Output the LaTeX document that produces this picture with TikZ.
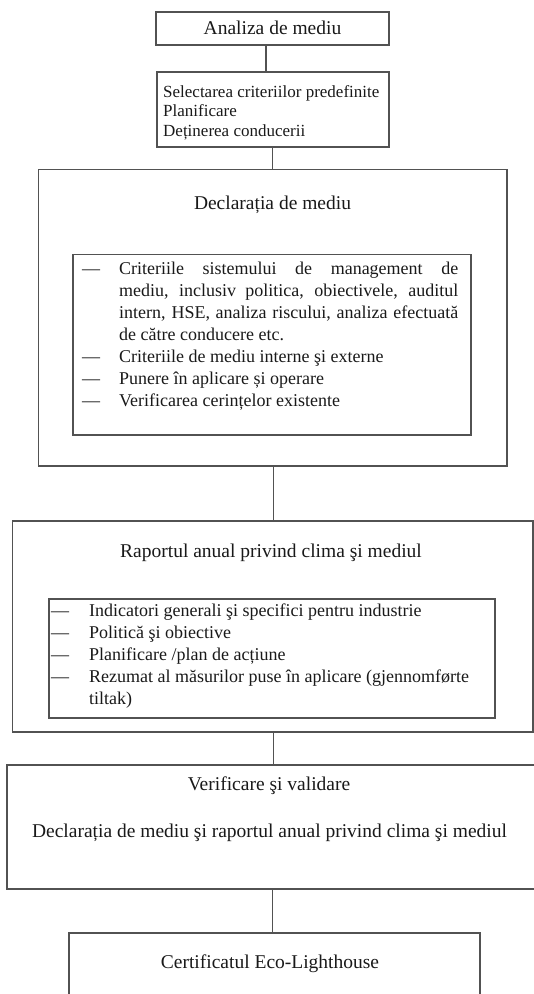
\documentclass[tikz,border=0pt]{standalone}
\usepackage{fontspec}
\setmainfont{Liberation Serif}
\begin{document}
\begin{tikzpicture}[x=1pt,y=-1pt,
  frame/.style={draw=black!68,line width=1.4pt,inner sep=0pt,outer sep=0pt},
  ttl/.style={font=\fontsize{19.5}{23}\selectfont,anchor=base,inner sep=0pt,text=black!90},
  itm/.style={font=\fontsize{18}{22}\selectfont,anchor=base west,inner sep=0pt,text=black!90},
  smalltxt/.style={font=\fontsize{17}{20}\selectfont,anchor=base west,inner sep=0pt,text=black!90},
  link/.style={draw=black!68,line width=1.4pt}]
\useasboundingbox (0,0) rectangle (534,994);
\clip (0,0) rectangle (534,994);

% boxes
\node[frame,minimum width=233pt,minimum height=33pt] (b1) at (272.5,28.5) {};
\node[frame,minimum width=232pt,minimum height=75pt] (b2) at (273,109.5) {};
\node[frame,minimum width=468.5pt,minimum height=296.5pt] (b3) at (272.75,317.75) {};
\node[frame,minimum width=398pt,minimum height=180.5pt] (b3i) at (272,344.75) {};
\node[frame,minimum width=520.5pt,minimum height=211pt] (b4) at (272.75,626.5) {};
\node[frame,minimum width=446pt,minimum height=119pt] (b4i) at (272,658.5) {};
\node[frame,minimum width=533pt,minimum height=124pt] (b5) at (273.5,827) {};
\node[frame,minimum width=411pt,minimum height=77pt] (b6) at (274.5,971.5) {};

% connectors
\coordinate (k1) at (266,0);
\coordinate (k2) at (272.7,0);
\coordinate (k3) at (273.5,0);
\coordinate (k5) at (272.5,0);
\draw[link] (k1 |- b1.south) -- (k1 |- b2.north);
\draw[link] (k2 |- b2.south) -- (k2 |- b3.north);
\draw[link] (k3 |- b3.south) -- (k3 |- b4.north);
\draw[link] (k3 |- b4.south) -- (k3 |- b5.north);
\draw[link] (k5 |- b5.south) -- (k5 |- b6.north);

% box 1
\node[ttl] (t1) at (272.5,34) {Analiza de mediu};

% box 2
\node[smalltxt] (s1) at (163,97) {Selectarea criteriilor predefinite};
\node[smalltxt] (s2) at (163,116.5) {Planificare};
\node[smalltxt] (s3) at (163,136) {Deținerea conducerii};

% box 3
\node[ttl] (t3) at (272.5,209) {Declarația de mediu};
\node[itm] (d1) at (82,274) {—};
\node[itm] (p1) at (119,274) {\makebox[339pt][s]{Criteriile sistemului de management de}};
\node[itm] (p2) at (119,296) {\makebox[339pt][s]{mediu, inclusiv politica, obiectivele, auditul}};
\node[itm] (p3) at (119,318) {\makebox[339pt][s]{intern, HSE, analiza riscului, analiza efectuată}};
\node[itm] (p4) at (119,340) {de către conducere etc.};
\node[itm] (d2) at (82,362) {—};
\node[itm] (p5) at (119,362) {Criteriile de mediu interne şi externe};
\node[itm] (d3) at (82,384) {—};
\node[itm] (p6) at (119,384) {Punere în aplicare și operare};
\node[itm] (d4) at (82,406) {—};
\node[itm] (p7) at (119,406) {Verificarea cerințelor existente};

% box 4
\node[ttl] (t4) at (271,557.5) {Raportul anual privind clima şi mediul};
\node[itm] (e1) at (51,616) {—};
\node[itm] (q1) at (89,616) {Indicatori generali şi specifici pentru industrie};
\node[itm] (e2) at (51,638) {—};
\node[itm] (q2) at (89,638) {Politică şi obiective};
\node[itm] (e3) at (51,660) {—};
\node[itm] (q3) at (89,660) {Planificare /plan de acțiune};
\node[itm] (e4) at (51,682) {—};
\node[itm] (q4) at (89,682) {Rezumat al măsurilor puse în aplicare (gjennomførte};
\node[itm] (q5) at (89,704) {tiltak)};

% box 5
\node[ttl] (t5) at (269,790.5) {Verificare şi validare};
\node[ttl] (t5b) at (269.5,837) {Declarația de mediu şi raportul anual privind clima şi mediul};

% box 6
\node[ttl] (t6) at (270,968) {Certificatul Eco-Lighthouse};
\end{tikzpicture}
\end{document}
